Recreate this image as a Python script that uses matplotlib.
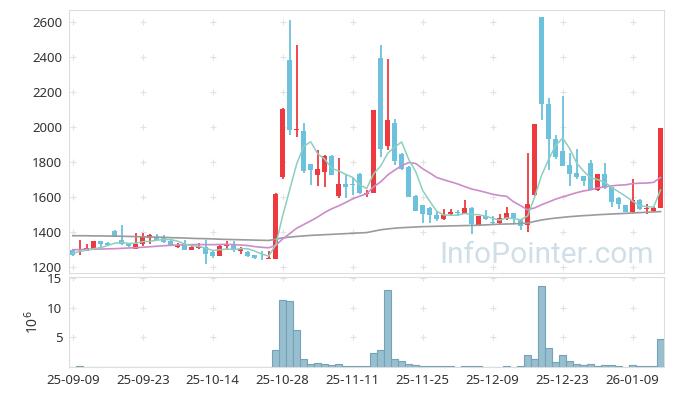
import matplotlib
matplotlib.use("Agg")
import matplotlib.pyplot as plt
import numpy as np

# tick labels every 10 trading days
tick_labels = ["25-09-09", "25-09-23", "25-10-14", "25-10-28", "25-11-11",
               "25-11-25", "25-12-09", "25-12-23", "26-01-09"]

# daily candles (85 trading days)
opens = [1297, 1297, 1295, 1301, 1349, 1337, 1406, 1358, 1331, 1305,
         1333, 1368, 1375, 1368, 1352, 1316, 1326, 1301, 1310, 1316,
         1287, 1265, 1322, 1330, 1293, 1287, 1269, 1252, 1248, 1246,
         1716, 2387, 1983, 1977, 1789, 1726, 1745, 1836, 1606, 1674,
         1672, 1735, 1618, 1625, 2398, 1891, 2027, 1846, 1773, 1606,
         1554, 1541, 1497, 1476, 1503, 1512, 1507, 1541, 1442, 1493,
         1459, 1450, 1478, 1510, 1474, 1440, 1611, 2630, 2135, 1930,
         1863, 1783, 1737, 1720, 1794, 1640, 1731, 1659, 1598, 1554,
         1513, 1587, 1532, 1520, 1539]
highs = [1300, 1354, 1330, 1352, 1352, 1345, 1410, 1444, 1335, 1398,
         1398, 1392, 1392, 1385, 1355, 1340, 1358, 1335, 1340, 1354,
         1290, 1335, 1350, 1350, 1313, 1290, 1272, 1290, 1290, 1625,
         2110, 2615, 2469, 2027, 1792, 1869, 1840, 1840, 1824, 1735,
         1716, 1740, 1640, 2097, 2469, 2392, 2050, 1850, 1776, 1610,
         1557, 1545, 1520, 1530, 1530, 1525, 1583, 1545, 1495, 1525,
         1495, 1505, 1545, 1512, 1476, 1850, 2021, 2632, 2170, 1955,
         2177, 1853, 1874, 1722, 1811, 1735, 1798, 1660, 1600, 1556,
         1707, 1590, 1564, 1546, 1998]
lows = [1262, 1269, 1291, 1298, 1316, 1322, 1370, 1326, 1318, 1305,
        1322, 1330, 1355, 1340, 1325, 1312, 1300, 1297, 1305, 1217,
        1255, 1265, 1297, 1287, 1278, 1258, 1246, 1244, 1246, 1246,
        1707, 1954, 1945, 1737, 1669, 1665, 1659, 1726, 1598, 1598,
        1611, 1621, 1602, 1625, 1830, 1869, 1787, 1755, 1602, 1520,
        1450, 1455, 1462, 1470, 1500, 1495, 1505, 1389, 1440, 1470,
        1448, 1448, 1470, 1450, 1410, 1402, 1605, 2044, 1758, 1821,
        1777, 1665, 1705, 1665, 1640, 1635, 1645, 1545, 1530, 1514,
        1510, 1528, 1503, 1515, 1539]
closes = [1270, 1303, 1310, 1349, 1330, 1326, 1375, 1330, 1320, 1335,
          1370, 1387, 1358, 1345, 1329, 1326, 1301, 1316, 1322, 1278,
          1265, 1320, 1335, 1307, 1303, 1265, 1250, 1250, 1250, 1621,
          2106, 1987, 1990, 1750, 1754, 1760, 1836, 1726, 1674, 1659,
          1669, 1625, 1621, 2097, 1873, 2040, 1806, 1764, 1602, 1522,
          1503, 1497, 1474, 1497, 1514, 1510, 1541, 1446, 1491, 1473,
          1450, 1484, 1510, 1474, 1438, 1560, 2021, 2131, 1931, 1830,
          1777, 1731, 1714, 1691, 1640, 1731, 1655, 1570, 1560, 1516,
          1587, 1531, 1535, 1541, 1998]

# moving averages
ma5 = [1280, 1290, 1298, 1306, 1312, 1324, 1338, 1342, 1336, 1337,
       1346, 1348, 1354, 1359, 1358, 1349, 1332, 1323, 1319, 1309,
       1296, 1300, 1304, 1301, 1306, 1306, 1292, 1275, 1264, 1327,
       1495, 1643, 1791, 1891, 1917, 1848, 1818, 1765, 1750, 1731,
       1713, 1671, 1650, 1735, 1778, 1851, 1887, 1916, 1817, 1747,
       1639, 1578, 1520, 1499, 1497, 1498, 1507, 1502, 1500, 1492,
       1480, 1469, 1482, 1478, 1471, 1493, 1601, 1725, 1816, 1895,
       1938, 1880, 1797, 1749, 1711, 1701, 1686, 1657, 1631, 1606,
       1578, 1553, 1546, 1544, 1641]
ma20 = [1300, 1301, 1302, 1303, 1304, 1305, 1306, 1308, 1310, 1312,
        1314, 1317, 1320, 1323, 1325, 1327, 1328, 1329, 1330, 1329,
        1329, 1330, 1331, 1329, 1327, 1324, 1318, 1314, 1311, 1325,
        1362, 1392, 1423, 1444, 1465, 1487, 1513, 1534, 1551, 1570,
        1591, 1606, 1620, 1660, 1688, 1727, 1755, 1781, 1798, 1793,
        1763, 1739, 1713, 1700, 1688, 1676, 1661, 1647, 1638, 1628,
        1617, 1610, 1605, 1574, 1552, 1528, 1539, 1557, 1573, 1589,
        1602, 1614, 1626, 1636, 1642, 1653, 1659, 1665, 1669, 1671,
        1678, 1680, 1681, 1685, 1713]
ma60 = [1380, 1380, 1380, 1379, 1379, 1378, 1378, 1377, 1376, 1375,
        1374, 1373, 1372, 1371, 1369, 1368, 1367, 1365, 1364, 1363,
        1362, 1360, 1359, 1358, 1357, 1356, 1355, 1354, 1353, 1360,
        1368, 1372, 1376, 1379, 1382, 1384, 1386, 1388, 1390, 1392,
        1394, 1396, 1398, 1406, 1414, 1419, 1423, 1426, 1428, 1430,
        1432, 1433, 1434, 1435, 1436, 1437, 1438, 1439, 1440, 1442,
        1444, 1446, 1447, 1448, 1450, 1452, 1462, 1470, 1476, 1481,
        1485, 1489, 1492, 1495, 1497, 1500, 1502, 1504, 1506, 1508,
        1510, 1512, 1514, 1516, 1518]

# volume in millions of shares
volume = [0.05, 0.2, 0.05, 0.05, 0.05, 0.05, 0.05, 0.05, 0.05, 0.05,
          0.05, 0.05, 0.05, 0.05, 0.05, 0.05, 0.05, 0.05, 0.05, 0.05,
          0.05, 0.05, 0.05, 0.05, 0.05, 0.05, 0.05, 0.05, 0.05, 2.85,
          11.3, 11.15, 6.27, 1.4, 0.55, 0.72, 0.55, 0.38, 0.55, 0.2,
          0.2, 0.2, 0.2, 2.35, 2.85, 13.0, 1.34, 1.0, 0.5, 0.38,
          0.15, 0.15, 0.15, 0.15, 0.15, 0.02, 0.15, 0.15, 0.15, 0.02,
          0.02, 0.02, 0.15, 0.02, 0.15, 2.07, 1.4, 13.67, 3.2, 0.84,
          2.0, 1.06, 0.55, 0.38, 0.5, 0.2, 0.38, 0.38, 0.2, 0.02,
          0.38, 0.2, 0.2, 0.2, 4.75]

RED = "#ee3a3e"
BLUE = "#6cc1dc"
GRID = "#e2e2e2"

plt.rcParams["font.family"] = ["Noto Sans", "DejaVu Sans"]

fig = plt.figure(figsize=(6.73, 3.96), dpi=100)
ax = fig.add_axes([0.103, 0.3106, 0.8837, 0.6641])
axv = fig.add_axes([0.103, 0.0725, 0.8837, 0.2273], sharex=ax)

x = np.arange(len(closes))
o = np.array(opens)
c = np.array(closes)
up = c >= o
cols = np.where(up, RED, BLUE)

ax.vlines(x, lows, highs, colors=cols, linewidth=1.3, zorder=3)
body_h = np.maximum(np.abs(c - o), 5)
ax.bar(x, body_h, bottom=np.minimum(o, c), width=0.72, color=cols, zorder=4)

ax.plot(x, ma60, color="#9a9a9a", linewidth=1.2, zorder=5)
ax.plot(x, ma20, color="#cc8ccb", linewidth=1.2, zorder=5)
ax.plot(x, ma5, color="#8ccfbf", linewidth=1.1, zorder=5)

ax.text(0.622, 0.015, "InfoPointer.com", transform=ax.transAxes,
        fontsize=21.5, family="Roboto", color="#cfdfe9", zorder=1,
        ha="left", va="bottom")

axv.bar(x, volume, width=1.0, color="#97bfd0", edgecolor="#74a2b8",
        linewidth=0.8, zorder=3)

xt = np.arange(0, 81, 10)
yt = np.arange(1200, 2601, 200)
vt = [5, 10, 15]

ax.set_xlim(-0.5, 84.5)
ax.set_ylim(1167, 2670)
ax.set_yticks(yt)
axv.set_ylim(0, 15.1)
axv.set_yticks(vt)
axv.set_xticks(xt)
axv.set_xticklabels(tick_labels)

# plus-shaped grid markers
gx, gy = np.meshgrid(xt, yt)
ax.scatter(gx.ravel(), gy.ravel(), marker="+", s=18, color=GRID,
           linewidths=0.8, zorder=0)
gx, gy = np.meshgrid(xt, vt)
axv.scatter(gx.ravel(), gy.ravel(), marker="+", s=18, color=GRID,
            linewidths=0.8, zorder=0)

for a in (ax, axv):
    for s in a.spines.values():
        s.set_color("#dddddd")
    a.tick_params(length=0, labelsize=9.5, colors="#333333", pad=5)
plt.setp(ax.get_xticklabels(), visible=False)

axv.set_ylabel("10$^6$", fontsize=10, color="#333333", labelpad=4)

fig.savefig("out.png", dpi=100)
